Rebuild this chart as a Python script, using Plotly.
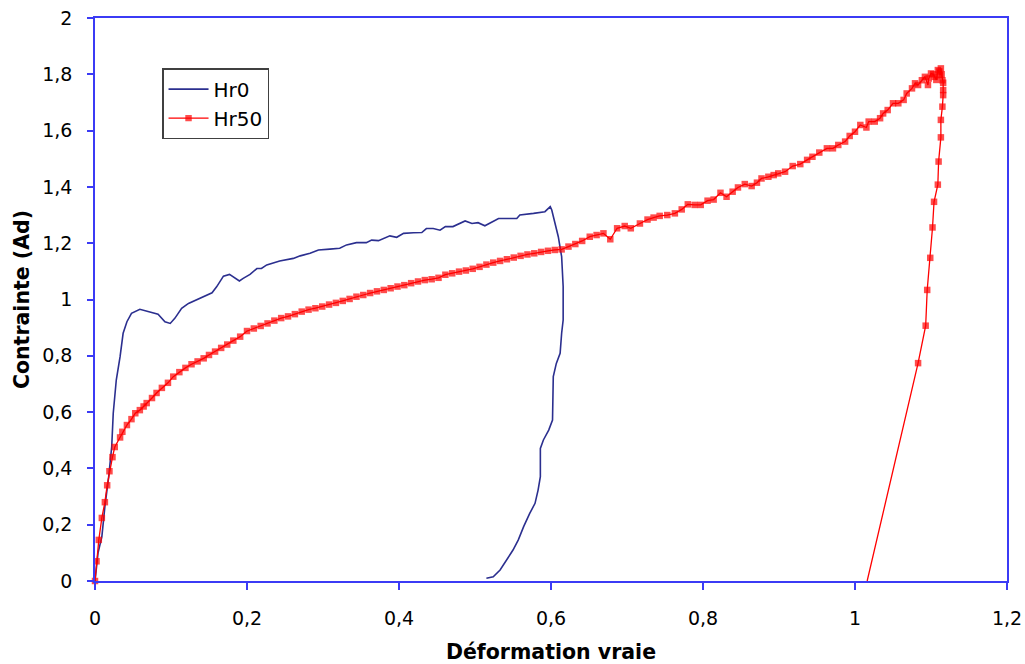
import plotly.graph_objects as go

# Hr0 : déformation vraie / contrainte
hr0_x = [0, 0.001, 0.004, 0.009, 0.013, 0.018, 0.022, 0.024, 0.028, 0.033, 0.037, 0.042, 0.048,
         0.059, 0.070, 0.083, 0.092, 0.099, 0.105, 0.114, 0.123, 0.131, 0.147, 0.154, 0.160,
         0.169, 0.177, 0.184, 0.190, 0.195, 0.204, 0.213, 0.219, 0.226, 0.243, 0.261, 0.270,
         0.283, 0.294, 0.309, 0.322, 0.331, 0.344, 0.357, 0.364, 0.373, 0.388, 0.397, 0.406,
         0.419, 0.430, 0.436, 0.445, 0.454, 0.461, 0.471, 0.487, 0.496, 0.504, 0.513, 0.524,
         0.531, 0.555, 0.559, 0.577, 0.592, 0.599, 0.601, 0.6096, 0.614, 0.616, 0.616, 0.614,
         0.612, 0.607, 0.603, 0.602, 0.597, 0.590, 0.586, 0.586, 0.583, 0.579, 0.572, 0.564,
         0.557, 0.550, 0.542, 0.533, 0.524, 0.518, 0.515]
hr0_y = [0, 0.028, 0.10, 0.157, 0.264, 0.37, 0.477, 0.596, 0.714, 0.797, 0.88, 0.921, 0.951,
         0.965, 0.957, 0.948, 0.921, 0.915, 0.933, 0.969, 0.986, 0.996, 1.016, 1.024, 1.045,
         1.083, 1.089, 1.075, 1.066, 1.075, 1.089, 1.110, 1.110, 1.123, 1.137, 1.146, 1.155,
         1.164, 1.176, 1.179, 1.182, 1.194, 1.202, 1.202, 1.211, 1.209, 1.226, 1.221, 1.235,
         1.237, 1.238, 1.252, 1.252, 1.246, 1.259, 1.259, 1.279, 1.270, 1.273, 1.262, 1.277,
         1.288, 1.288, 1.300, 1.306, 1.312, 1.330, 1.318, 1.223, 1.152, 1.046, 0.927, 0.880,
         0.809, 0.773, 0.726, 0.572, 0.536, 0.501, 0.471, 0.371, 0.323, 0.276, 0.240, 0.193,
         0.146, 0.110, 0.075, 0.039, 0.015, 0.010, 0.010]

# Hr50
hr50_x = [0, 0.002, 0.005, 0.009, 0.013, 0.016, 0.019, 0.023, 0.026, 0.033, 0.036, 0.042, 0.048,
          0.053, 0.059, 0.064, 0.068, 0.075, 0.081, 0.088, 0.096, 0.103, 0.111, 0.119, 0.127,
          0.135, 0.143, 0.150, 0.158, 0.166, 0.174, 0.182, 0.191,
          0.200, 0.209, 0.218, 0.227, 0.236, 0.245, 0.254, 0.263, 0.272, 0.281, 0.290, 0.299,
          0.308, 0.317, 0.326, 0.335, 0.344, 0.353, 0.362, 0.371, 0.380, 0.389, 0.398, 0.407,
          0.416, 0.425, 0.434, 0.443, 0.452, 0.461, 0.470, 0.479, 0.488, 0.497, 0.506, 0.515,
          0.524, 0.533, 0.542, 0.551, 0.560, 0.569, 0.578, 0.587, 0.596, 0.605, 0.614, 0.623,
          0.632, 0.641, 0.651, 0.660, 0.669, 0.678, 0.687, 0.697, 0.705, 0.717, 0.727, 0.735,
          0.743, 0.753, 0.763, 0.772, 0.780, 0.789, 0.797, 0.806, 0.814, 0.823, 0.831, 0.839,
          0.846, 0.855, 0.864, 0.871, 0.877, 0.886, 0.893, 0.899, 0.908, 0.918, 0.928, 0.937,
          0.944, 0.953, 0.963, 0.971, 0.978, 0.987, 0.993, 1.000, 1.007, 1.015, 1.018, 1.026,
          1.033, 1.037, 1.043, 1.050, 1.057, 1.064, 1.068, 1.075, 1.079, 1.083, 1.088, 1.092,
          1.096, 1.097, 1.100, 1.103, 1.105, 1.107, 1.109, 1.111, 1.112, 1.113, 1.114, 1.115,
          1.116, 1.116, 1.116, 1.115, 1.113, 1.113, 1.110, 1.109, 1.104, 1.102, 1.099, 1.095,
          1.093, 1.083, 1.016]
hr50_y = [0, 0.07, 0.146, 0.224, 0.28, 0.34, 0.39, 0.44, 0.476, 0.51, 0.53, 0.554, 0.575,
          0.596, 0.607, 0.620, 0.632, 0.650, 0.668, 0.686, 0.704, 0.726, 0.742, 0.757, 0.770,
          0.780, 0.791, 0.803, 0.815, 0.828, 0.840, 0.854, 0.868,
          0.888, 0.897, 0.906, 0.915, 0.925, 0.934, 0.940, 0.948, 0.957, 0.964, 0.969, 0.975,
          0.982, 0.988, 0.995, 1.002, 1.010, 1.016, 1.023, 1.029, 1.034, 1.040, 1.046, 1.051,
          1.058, 1.064, 1.069, 1.072, 1.077, 1.088, 1.093, 1.099, 1.103, 1.109, 1.116, 1.124,
          1.131, 1.137, 1.143, 1.149, 1.155, 1.160, 1.164, 1.169, 1.173, 1.176, 1.178, 1.188,
          1.197, 1.208, 1.223, 1.229, 1.235, 1.214, 1.253, 1.261, 1.253, 1.270, 1.284, 1.291,
          1.297, 1.300, 1.306, 1.320, 1.338, 1.336, 1.336, 1.351, 1.355, 1.379, 1.365, 1.383,
          1.398, 1.410, 1.403, 1.415, 1.430, 1.436, 1.442, 1.448, 1.454, 1.474, 1.481, 1.496,
          1.507, 1.522, 1.537, 1.537, 1.549, 1.561, 1.581, 1.596, 1.620, 1.611, 1.632, 1.632,
          1.644, 1.661, 1.673, 1.697, 1.697, 1.709, 1.732, 1.750, 1.768, 1.762, 1.779, 1.791,
          1.762, 1.785, 1.803, 1.800, 1.791, 1.780, 1.815, 1.810, 1.797, 1.821, 1.800, 1.779,
          1.770, 1.744, 1.726, 1.685, 1.638, 1.576, 1.490, 1.408, 1.347, 1.256, 1.148, 1.034,
          0.907, 0.774, 0.0]

x_ticks = [0, 0.2, 0.4, 0.6, 0.8, 1.0, 1.2]
x_labels = ["0", "0,2", "0,4", "0,6", "0,8", "1", "1,2"]
y_ticks = [0, 0.2, 0.4, 0.6, 0.8, 1.0, 1.2, 1.4, 1.6, 1.8, 2.0]
y_labels = ["0", "0,2", "0,4", "0,6", "0,8", "1", "1,2", "1,4", "1,6", "1,8", "2"]

AXIS = "#3b3bf5"
FONT = "DejaVu Sans"

marker_sizes = [6.5] * (len(hr50_x) - 1) + [0]

fig = go.Figure()
fig.add_trace(go.Scatter(x=hr0_x, y=hr0_y, mode="lines", name="Hr0",
                         line=dict(color="#2b2f8f", width=1.6), cliponaxis=False))
fig.add_trace(go.Scatter(x=hr50_x, y=hr50_y, mode="lines+markers", name="Hr50",
                         line=dict(color="#ff0000", width=1.3),
                         marker=dict(symbol="square", size=marker_sizes, color="#ff0000",
                                     line=dict(width=0)),
                         cliponaxis=False))

fig.update_layout(
    width=1025, height=664,
    margin=dict(l=95, r=18, t=18, b=83),
    paper_bgcolor="white", plot_bgcolor="white",
    font=dict(family=FONT, size=14, color="black"),
    showlegend=True,
    legend=dict(x=0.0735, y=0.911, xanchor="left", yanchor="top",
                bgcolor="white", bordercolor="#404040", borderwidth=1.5,
                font=dict(family=FONT, size=20, color="black"),
                itemwidth=40, tracegroupgap=0),
)
fig.update_xaxes(range=[0, 1.2], tickvals=x_ticks, ticktext=x_labels, automargin=False,
                 showgrid=False, zeroline=False, showline=True, linecolor=AXIS, linewidth=1.5,
                 mirror=True, ticks="outside", tickcolor=AXIS, ticklen=7, tickwidth=1.5,
                 ticklabelstandoff=12,
                 tickfont=dict(family=FONT, size=19, color="black"),
                 title=dict(text="<b>Déformation vraie</b>", font=dict(family=FONT, size=20.5), standoff=17))
fig.update_yaxes(range=[0, 2], tickvals=y_ticks, ticktext=y_labels, automargin=False,
                 showgrid=False, zeroline=False, showline=True, linecolor=AXIS, linewidth=1.5,
                 mirror=True, ticks="outside", tickcolor=AXIS, ticklen=6, tickwidth=1.5,
                 ticklabelstandoff=11,
                 tickfont=dict(family=FONT, size=19, color="black"),
                 title=dict(text="<b>Contrainte (Ad)</b>", font=dict(family=FONT, size=20.5), standoff=7))

fig.write_html("out.html")
